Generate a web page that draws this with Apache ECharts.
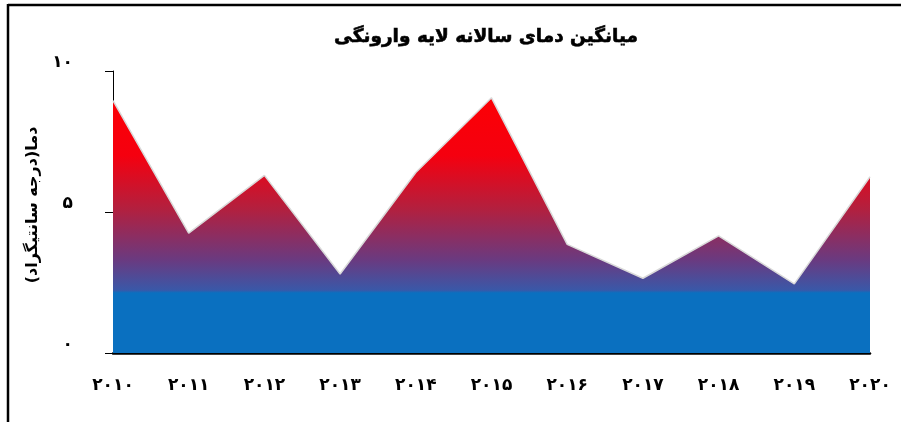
<!DOCTYPE html>
<html>
<head>
<meta charset="utf-8">
<script src="https://cdn.jsdelivr.net/npm/echarts@6/dist/echarts.min.js"></script>
<style>html,body{margin:0;padding:0;background:#fff}#c{width:901px;height:422px}</style>
</head>
<body>
<div id="c"></div>
<script>
var titleText = 'میانگین دمای سالانه لایه وارونگی';
var yAxisName = 'دما(درجه سانتیگراد)';
var categories = ['۲۰۱۰','۲۰۱۱','۲۰۱۲','۲۰۱۳','۲۰۱۴','۲۰۱۵','۲۰۱۶','۲۰۱۷','۲۰۱۸','۲۰۱۹','۲۰۲۰'];
var values = [8.95, 4.25, 6.3, 2.8, 6.4, 9.05, 3.85, 2.65, 4.15, 2.45, 6.25];
var yTickValues = [0, 5, 10];
var yTickLabels = ['۰', '۵', '۱۰'];

var chart = echarts.init(document.getElementById('c'), null, {renderer: 'canvas'});
var fontAr = '"DejaVu Sans", "Noto Sans", sans-serif';
chart.setOption({
  animation: false,
  title: {
    text: titleText, left: 481, top: 23, textAlign: 'center',
    textStyle: {fontFamily: fontAr, fontWeight: 'bold', fontSize: 18.5, color: '#000', textBorderColor: '#000', textBorderWidth: 0.6}
  },
  grid: {left: 113, right: 31, top: 71, bottom: 69, containLabel: false},
  xAxis: {
    type: 'category', data: categories, boundaryGap: false,
    axisLine: {lineStyle: {color: '#000', width: 2.5}},
    axisTick: {show: false},
    axisLabel: {margin: 24, color: '#000', fontSize: 17, fontWeight: 'bold', fontFamily: fontAr, interval: 0},
    splitLine: {show: false}
  },
  yAxis: {
    type: 'value', min: 0, max: 10, interval: 5,
    name: yAxisName, nameLocation: 'middle', nameGap: 72, nameRotate: 90,
    nameTextStyle: {fontFamily: fontAr, fontWeight: 'bold', fontSize: 16, color: '#000', padding: [0, 0, 0, 14]},
    axisLine: {show: true, lineStyle: {color: '#000', width: 1}},
    axisTick: {show: true, length: 8, lineStyle: {color: '#000'}},
    axisLabel: {
      margin: 40, color: '#000', fontSize: 17, fontWeight: 'bold', fontFamily: fontAr, verticalAlign: 'bottom',
      formatter: function (v) { var i = yTickValues.indexOf(v); return i >= 0 ? yTickLabels[i] : ''; }
    },
    splitLine: {show: false}
  },
  graphic: [
    {type: 'line', shape: {x1: 8, y1: 5, x2: 901, y2: 5}, style: {stroke: '#000', lineWidth: 2.5}, z: 100},
    {type: 'line', shape: {x1: 8, y1: 4, x2: 8, y2: 422}, style: {stroke: '#000', lineWidth: 2.5}, z: 100}
  ],
  series: [{
    type: 'line', data: values, symbol: 'none',
    lineStyle: {color: '#d9d9d9', width: 1.5},
    areaStyle: {
      opacity: 1,
      color: {
        type: 'linear', x: 0, y: 71, x2: 0, y2: 353, global: true,
        colorStops: [
          {offset: 0, color: '#ff0000'},
          {offset: 0.3, color: '#f5000f'},
          {offset: 0.49, color: '#b2203f'},
          {offset: 0.67, color: '#6a3a80'},
          {offset: 0.777, color: '#3a58a8'},
          {offset: 0.787, color: '#0a70c0'},
          {offset: 1, color: '#0a70c0'}
        ]
      }
    },
    z: 2
  }]
});
</script>
</body>
</html>
